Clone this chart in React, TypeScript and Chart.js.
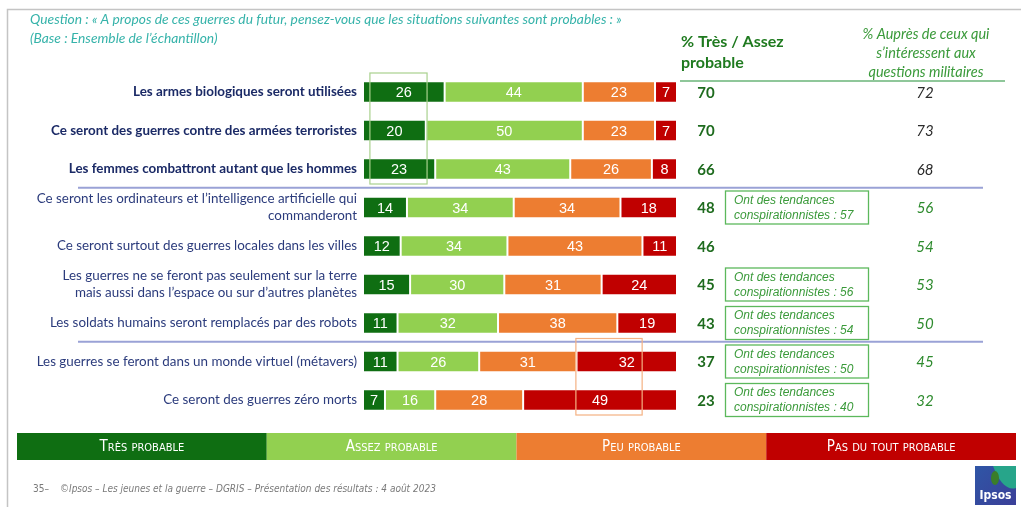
import { useEffect, useRef } from "react";
import { Chart, registerables } from "chart.js";
Chart.register(...registerables);

const categories: (string | string[])[] = [
  "Les armes biologiques seront utilisées",
  "Ce seront des guerres contre des armées terroristes",
  "Les femmes combattront autant que les hommes",
  ["Ce seront les ordinateurs et l’intelligence artificielle qui", "commanderont"],
  "Ce seront surtout des guerres locales dans les villes",
  ["Les guerres ne se feront pas seulement sur la terre", "mais aussi dans l’espace ou sur d’autres planètes"],
  "Les soldats humains seront remplacés par des robots",
  "Les guerres se feront dans un monde virtuel (métavers)",
  "Ce seront des guerres zéro morts",
];
const seriesNames = ["Très probable", "Assez probable", "Peu probable", "Pas du tout probable"];
const tresProbable = [26, 20, 23, 14, 12, 15, 11, 11, 7];
const assezProbable = [44, 50, 43, 34, 34, 30, 32, 26, 16];
const peuProbable = [23, 23, 26, 34, 43, 31, 38, 31, 28];
const pasDuTout = [7, 7, 8, 18, 11, 24, 19, 32, 49];
const totalProbable = [70, 70, 66, 48, 46, 45, 43, 37, 23];
const militaires = [72, 73, 68, 56, 54, 53, 50, 45, 32];
const conspirationnistes: (number | null)[] = [null, null, null, 57, null, 56, 54, 50, 40];

const COLORS = ["#0f6e12", "#92d050", "#ed7d31", "#c00000"];
const GREEN_TXT = "#1f7a1f";
const SANS = "Lato, 'Liberation Sans', sans-serif";
const ARIAL = "'Liberation Sans', Arial, sans-serif";
const NARROW = "'Liberation Sans Narrow', 'DejaVu Sans Condensed', sans-serif";

const overlay = {
  id: "overlay",
  beforeDraw(chart: any) {
    const { ctx } = chart;
    ctx.save();
    ctx.fillStyle = "#fff";
    ctx.fillRect(0, 0, chart.width, chart.height);
    ctx.restore();
  },
  afterDatasetsDraw(chart: any) {
    const { ctx } = chart;
    ctx.save();
    ctx.fillStyle = "#fff";
    ctx.font = `14.5px ${ARIAL}`;
    ctx.textAlign = "center";
    ctx.textBaseline = "middle";
    chart.data.datasets.forEach((ds: any, di: number) => {
      const meta = chart.getDatasetMeta(di);
      meta.data.forEach((bar: any, i: number) => {
        const v = ds.data[i];
        const cx = (bar.x + bar.base) / 2;
        ctx.fillText(String(v), cx, bar.y + 1);
      });
    });
    ctx.restore();
  },
  afterDraw(chart: any) {
    const { ctx } = chart;
    const xs = chart.scales.x;
    const ys = chart.scales.y;
    const rowY = (i: number) => ys.getPixelForValue(i);
    ctx.save();

    // frame
    ctx.strokeStyle = "#c4c4c4";
    ctx.lineWidth = 1.5;
    ctx.beginPath();
    ctx.moveTo(7.5, 507);
    ctx.lineTo(7.5, 9.5);
    ctx.lineTo(1021, 9.5);
    ctx.stroke();

    // question
    ctx.fillStyle = "#36b3aa";
    ctx.font = `italic 13.8px ${SANS}`;
    ctx.textAlign = "left";
    ctx.textBaseline = "middle";
    ctx.fillText("Question : « A propos de ces guerres du futur, pensez-vous que les situations suivantes sont probables : »", 30, 20);
    ctx.fillText("(Base : Ensemble de l’échantillon)", 30, 39);

    // headers
    ctx.fillStyle = GREEN_TXT;
    ctx.font = `bold 16px ${SANS}`;
    ctx.fillText("% Très / Assez", 681, 42);
    ctx.fillText("probable", 681, 63);
    ctx.fillStyle = "#3a9a3a";
    ctx.font = `italic 14.5px ${SANS}`;
    ctx.textAlign = "center";
    ctx.fillText("% Auprès de ceux qui", 926, 34);
    ctx.fillText("s’intéressent aux", 926, 53);
    ctx.fillText("questions militaires", 926, 72);
    ctx.strokeStyle = "#8fc79a";
    ctx.lineWidth = 2;
    ctx.beginPath();
    ctx.moveTo(680, 81);
    ctx.lineTo(1005, 81);
    ctx.stroke();

    // separators
    ctx.strokeStyle = "#9aa2d6";
    ctx.lineWidth = 2;
    [2, 6].forEach((i) => {
      const y = (rowY(i) + rowY(i + 1)) / 2 - 0.5;
      ctx.beginPath();
      ctx.moveTo(78, y);
      ctx.lineTo(983, y);
      ctx.stroke();
    });

    // highlight rectangles
    ctx.lineWidth = 1.2;
    ctx.strokeStyle = "#a9d18e";
    {
      const x1 = xs.getPixelForValue(2.2), x2 = xs.getPixelForValue(20.4);
      const y1 = rowY(0) - 19, y2 = rowY(2) + 15;
      ctx.strokeRect(x1, y1, x2 - x1, y2 - y1);
    }
    ctx.strokeStyle = "#f4b183";
    {
      const x1 = xs.getPixelForValue(67.8), x2 = xs.getPixelForValue(88.9);
      const y1 = rowY(7) - 23, y2 = rowY(8) + 15;
      ctx.strokeRect(x1, y1, x2 - x1, y2 - y1);
    }

    // value columns
    totalProbable.forEach((v, i) => {
      const y = rowY(i) + 1;
      ctx.fillStyle = "#1e6b1e";
      ctx.font = `bold 15px ${SANS}`;
      ctx.textAlign = "center";
      ctx.fillText(String(v), 706, y);
      ctx.fillStyle = i < 3 ? "#2b2b2b" : "#2e8b2e";
      ctx.font = `italic 15px ${SANS}`;
      ctx.fillText(String(militaires[i]), 925, y);
      const c = conspirationnistes[i];
      if (c !== null) {
        ctx.strokeStyle = "#5cb85c";
        ctx.lineWidth = 1.3;
        ctx.strokeRect(725.5, rowY(i) - 16.5, 143, 33);
        ctx.fillStyle = "#3a9a3a";
        ctx.font = `italic 12px ${ARIAL}`;
        ctx.textAlign = "left";
        ctx.fillText("Ont des tendances", 734, rowY(i) - 7);
        ctx.fillText("conspirationnistes : " + c, 734, rowY(i) + 8);
      }
    });

    // legend
    const lx = 17, lw = 999, ly = 433, lh = 27;
    const segW = lw / 4;
    seriesNames.forEach((name, i) => {
      ctx.fillStyle = COLORS[i];
      ctx.fillRect(lx + i * segW, ly, segW, lh);
      ctx.fillStyle = "#fff";
      ctx.textAlign = "center";
      ctx.font = `15px ${NARROW}`;
      try { (ctx as any).fontVariantCaps = "small-caps"; } catch (e) {}
      ctx.fillText(name, lx + i * segW + segW / 2, ly + lh / 2 + 1);
      try { (ctx as any).fontVariantCaps = "normal"; } catch (e) {}
    });

    // footer
    ctx.fillStyle = "#7a7a7a";
    ctx.textAlign = "left";
    ctx.font = `10px ${NARROW}`;
    ctx.fillText("35–", 33, 489);
    ctx.font = `italic 10px ${NARROW}`;
    ctx.fillText("©Ipsos – Les jeunes et la guerre – DGRIS – Présentation des résultats : 4 août 2023", 60, 489);

    // logo
    const gx = 975, gy = 466, gw = 41, gh = 39;
    const grad = ctx.createLinearGradient(gx, gy, gx + gw, gy + gh);
    grad.addColorStop(0, "#2f56a6");
    grad.addColorStop(1, "#3b3f98");
    ctx.fillStyle = grad;
    ctx.fillRect(gx, gy, gw, gh);
    ctx.fillStyle = "#27a58a";
    ctx.beginPath();
    ctx.moveTo(gx + 18, gy);
    ctx.lineTo(gx + gw, gy);
    ctx.lineTo(gx + gw, gy + 22);
    ctx.quadraticCurveTo(gx + 28, gy + 26, gx + 18, gy);
    ctx.fill();
    ctx.fillStyle = "#3a7d2a";
    ctx.beginPath();
    ctx.ellipse(gx + 20, gy + 12, 4, 7, 0, 0, Math.PI * 2);
    ctx.fill();
    ctx.fillStyle = "#fff";
    ctx.textAlign = "center";
    ctx.font = `bold 12px ${NARROW}`;
    ctx.fillText("Ipsos", gx + gw / 2, gy + 30);

    ctx.restore();
  },
};

export default function App() {
  const ref = useRef<HTMLCanvasElement>(null);
  useEffect(() => {
    const canvas = ref.current!;
    const seriesValues = [tresProbable, assezProbable, peuProbable, pasDuTout];
    const chart = new Chart(canvas, {
      type: "bar",
      data: {
        labels: categories as any,
        datasets: seriesValues.map((vals, i) => ({
          label: seriesNames[i],
          data: vals,
          backgroundColor: COLORS[i],
          borderColor: "rgba(255,255,255,0.7)",
          borderWidth: 1,
          borderSkipped: false,
          barPercentage: 0.56,
          categoryPercentage: 1,
        })),
      },
      options: {
        indexAxis: "y",
        animation: false,
        responsive: false,
        devicePixelRatio: 1,
        layout: { padding: { left: 0, right: 344, top: 72.75, bottom: 87.75 } },
        plugins: { legend: { display: false }, tooltip: { enabled: false } },
        scales: {
          x: { stacked: true, min: 0, max: 100, display: false },
          y: {
            stacked: true,
            grid: { display: false, drawTicks: false },
            border: { display: false },
            afterFit: (scale: any) => { scale.width = 363; },
            ticks: {
              padding: 6,
              color: (c: any) => (c.index < 3 ? "#1b2a66" : "#2b3b7c"),
              font: (c: any) => ({
                family: SANS,
                size: 13.4,
                weight: c.index < 3 ? "bold" : "normal",
                lineHeight: 1.28,
              }),
            },
          },
        },
      },
      plugins: [overlay],
    } as any);
    return () => chart.destroy();
  }, []);
  return (
    <div style={{ position: "fixed", left: 0, top: 0, width: 1021, height: 507, background: "#fff" }}>
      <canvas ref={ref} width={1021} height={507} style={{ display: "block", width: 1021, height: 507 }} />
    </div>
  );
}
